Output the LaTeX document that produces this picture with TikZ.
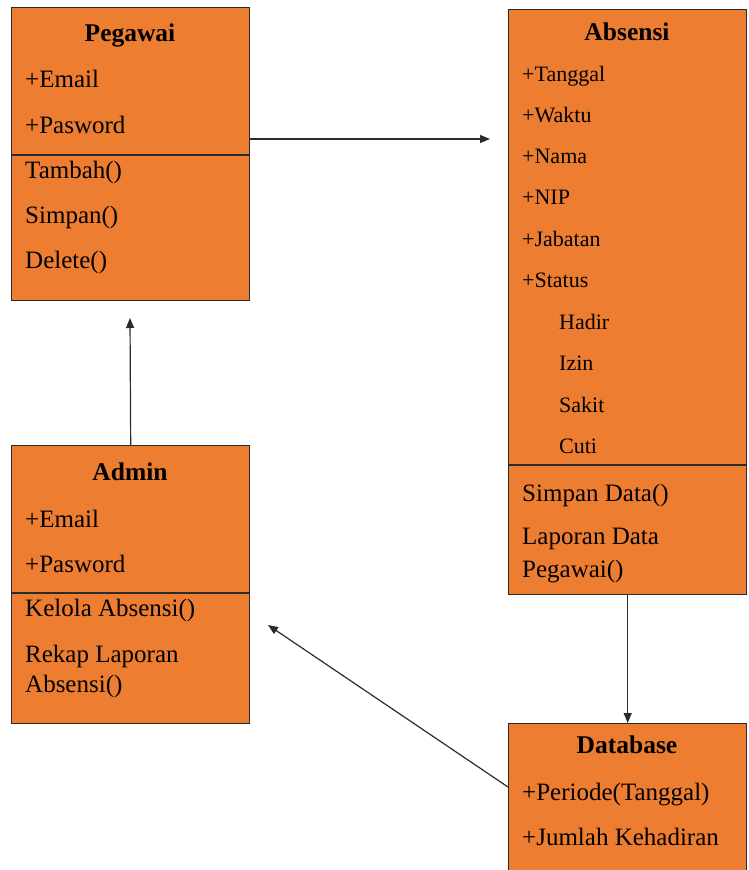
\documentclass[tikz,border=0pt]{standalone}
\usepackage{fontspec}
\setmainfont{Liberation Serif}
\usetikzlibrary{arrows.meta}
\definecolor{boxfill}{HTML}{ED7D31}
\definecolor{boxline}{HTML}{2B2B2B}
\tikzset{
  umlbox/.style={draw=boxline, fill=boxfill, line width=1.4pt, anchor=north west, inner sep=0pt},
  sepline/.style={draw=boxline, line width=1.4pt},
  title/.style={anchor=base, inner sep=0pt, font=\fontsize{25.5}{25.5}\selectfont\bfseries},
  item/.style={anchor=base west, inner sep=0pt, font=\fontsize{25}{25}\selectfont},
  smallitem/.style={anchor=base west, inner sep=0pt, font=\fontsize{22}{22}\selectfont},
  conn/.style={draw=boxline, line width=1.2pt, -{Triangle[length=10pt,width=8pt]}}
}
\begin{document}
\begin{tikzpicture}[x=1pt,y=-1pt]
\useasboundingbox (0,0) rectangle (748,870);
\clip (0,0) rectangle (748,870);
% Pegawai
\node[umlbox, minimum width=238pt, minimum height=293pt] (peg) at (11,7) {};
\draw[sepline] (11,155) -- (249,155);
\node[title] (pegt) at (130,41) {Pegawai};
\node[item] (pe1) at (25,87) {+Email};
\node[item] (pe2) at (25,133) {+Pasword};
\node[item] (pm1) at (25,178) {Tambah()};
\node[item] (pm2) at (25,223) {Simpan()};
\node[item] (pm3) at (25,268) {Delete()};
% Absensi
\node[umlbox, minimum width=238pt, minimum height=585pt] (abs) at (508,9) {};
\draw[sepline] (508,465) -- (746,465);
\node[title] (abst) at (627,40) {Absensi};
\node[smallitem] (a1) at (522,81) {+Tanggal};
\node[smallitem] (a2) at (522,122) {+Waktu};
\node[smallitem] (a3) at (522,163) {+Nama};
\node[smallitem] (a4) at (522,204) {+NIP};
\node[smallitem] (a5) at (522,246) {+Jabatan};
\node[smallitem] (a6) at (522,287) {+Status};
\node[smallitem] (a7) at (559,329) {Hadir};
\node[smallitem] (a8) at (559,370) {Izin};
\node[smallitem] (a9) at (559,412) {Sakit};
\node[smallitem] (a10) at (559,453) {Cuti};
\node[item] (am1) at (522,501) {Simpan Data()};
\node[item] (am2) at (522,544) {Laporan Data};
\node[item] (am3) at (522,577) {Pegawai()};
% Admin
\node[umlbox, minimum width=238pt, minimum height=278pt] (adm) at (11,445) {};
\draw[sepline] (11,593) -- (249,593);
\node[title] (admt) at (130,480) {Admin};
\node[item] (d1) at (25,527) {+Email};
\node[item] (d2) at (25,572) {+Pasword};
\node[item] (dm1) at (25,616) {Kelola Absensi()};
\node[item] (dm2) at (25,662) {Rekap Laporan};
\node[item] (dm3) at (25,692) {Absensi()};
% Database
\node[umlbox, minimum width=238pt, minimum height=170pt] (db) at (508,723) {};
\node[title] (dbt) at (627,753) {Database};
\node[item] (b1) at (522,800) {+Periode(Tanggal)};
\node[item] (b2) at (522,845) {+Jumlah Kehadiran};
% connectors
\coordinate (c1) at (490,139);
\coordinate (c2) at (130,318);
\coordinate (c3) at (268,625);
\coordinate (pegR) at (249,139);
\coordinate (dbL) at (508,787);
\draw[conn] (pegR) -- (c1);
\draw[conn] (adm.north) -- (c2);
\draw[conn] (abs.south -| db.north) -- (db.north);
\draw[conn] (dbL) -- (c3);
\end{tikzpicture}
\end{document}
